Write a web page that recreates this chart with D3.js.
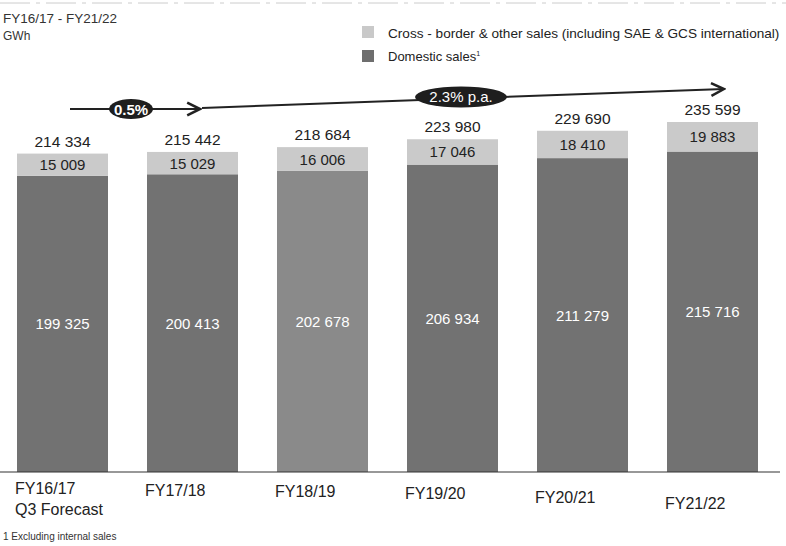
<!DOCTYPE html>
<html><head><meta charset="utf-8">
<script src="https://cdn.jsdelivr.net/npm/d3@7"></script>
<style>
body{margin:0;background:#fff;}
svg{font-family:"Liberation Sans",Arial,sans-serif;}
</style></head>
<body><svg id="c" width="786" height="546"></svg>
<script>
const categories = ["FY16/17", "FY17/18", "FY18/19", "FY19/20", "FY20/21", "FY21/22"];
const subLabels = ["Q3 Forecast", "", "", "", "", ""];
const domestic = [199325, 200413, 202678, 206934, 211279, 215716];
const crossBorder = [15009, 15029, 16006, 17046, 18410, 19883];
const totals = [214334, 215442, 218684, 223980, 229690, 235599];
const growthLabels = ["0.5%", "2.3% p.a."];

const svg = d3.select("#c");
const baseY = 472;
const x = d3.scaleBand().domain(categories).range([17, 758]).paddingInner(0.3).paddingOuter(0);
const y = d3.scaleLinear().domain([0, 235599]).range([baseY, 122]);
const labelY = [494, 496, 497, 499, 503, 509];
const fmt = v => d3.format(",")(v).replace(/,/g, " ");

// faint scan line at top
svg.append("line").attr("x1",0).attr("x2",786).attr("y1",3).attr("y2",3)
  .attr("stroke","#ccc").attr("stroke-width",1).attr("stroke-dasharray","30,6,4,6");

// header
svg.append("text").attr("x",3).attr("y",23).attr("font-size",13.5).attr("fill","#333").text("FY16/17 - FY21/22");
svg.append("text").attr("x",3).attr("y",40).attr("font-size",12).attr("fill","#333").text("GWh");

// legend
const lg = svg.append("g");
lg.append("rect").attr("x",362).attr("y",26).attr("width",12).attr("height",12).attr("fill","#c9c9c9");
lg.append("text").attr("x",388).attr("y",38).attr("font-size",13.6).attr("fill","#222")
  .text("Cross - border & other sales (including SAE & GCS international)");
lg.append("rect").attr("x",362).attr("y",50).attr("width",12).attr("height",12).attr("fill","#6e6e6e");
const dl = lg.append("text").attr("x",388).attr("y",61).attr("font-size",13).attr("fill","#222").text("Domestic sales");
dl.append("tspan").attr("font-size",7).attr("dy",-5).text("1");

// bars
const g = svg.append("g");
categories.forEach((c,i)=>{
  const bx = x(c), bw = x.bandwidth();
  g.append("rect").attr("x",bx).attr("y",y(domestic[i])).attr("width",bw)
    .attr("height",baseY - y(domestic[i])).attr("fill", i===2 ? "#8a8a8a" : "#727272");
  g.append("rect").attr("x",bx).attr("y",y(domestic[i]+crossBorder[i])).attr("width",bw)
    .attr("height",y(domestic[i]) - y(domestic[i]+crossBorder[i])).attr("fill","#cacaca");
  const cx = bx + bw/2;
  g.append("text").attr("x",cx).attr("y",(y(domestic[i])+y(domestic[i]+crossBorder[i]))/2+5.5)
    .attr("text-anchor","middle").attr("font-size",15).attr("fill","#222").text(fmt(crossBorder[i]));
  g.append("text").attr("x",cx).attr("y",(y(domestic[i])+baseY)/2+5.5)
    .attr("text-anchor","middle").attr("font-size",15).attr("fill","#fff").text(fmt(domestic[i]));
  g.append("text").attr("x",cx).attr("y",y(totals[i])-7)
    .attr("text-anchor","middle").attr("font-size",15.5).attr("fill","#222").text(fmt(totals[i]));
  g.append("text").attr("x",bx-2).attr("y",labelY[i]).attr("font-size",16).attr("fill","#222").text(c);
  if (subLabels[i]) g.append("text").attr("x",bx-2).attr("y",labelY[i]+21).attr("font-size",16).attr("fill","#222").text(subLabels[i]);
});

// baseline
svg.append("line").attr("x1",0).attr("x2",780).attr("y1",baseY).attr("y2",baseY).attr("stroke","#333").attr("stroke-width",1.2);

// arrows
const defs = svg.append("defs");
defs.append("marker").attr("id","ah").attr("viewBox","0 0 10 10").attr("refX",9).attr("refY",5)
  .attr("markerWidth",8).attr("markerHeight",8).attr("orient","auto")
  .append("path").attr("d","M1,1 L9,5 L1,9").attr("fill","none").attr("stroke","#222").attr("stroke-width",1.6);
svg.append("line").attr("x1",70).attr("y1",109).attr("x2",200).attr("y2",109)
  .attr("stroke","#222").attr("stroke-width",2).attr("marker-end","url(#ah)");
svg.append("line").attr("x1",202).attr("y1",108).attr("x2",724).attr("y2",89)
  .attr("stroke","#222").attr("stroke-width",2).attr("marker-end","url(#ah)");
svg.append("ellipse").attr("cx",131).attr("cy",109).attr("rx",22).attr("ry",10).attr("fill","#1e1e1e");
svg.append("text").attr("x",131).attr("y",115).attr("text-anchor","middle").attr("font-size",15).attr("font-weight","bold").attr("fill","#fff").text(growthLabels[0]);
svg.append("ellipse").attr("cx",461).attr("cy",97).attr("rx",46).attr("ry",10.5).attr("fill","#1e1e1e");
svg.append("text").attr("x",461).attr("y",102).attr("text-anchor","middle").attr("font-size",15).attr("fill","#fff").text(growthLabels[1]);

// footnote
svg.append("text").attr("x",3).attr("y",540).attr("font-size",10).attr("fill","#333").text("1 Excluding internal sales");
</script></body></html>
